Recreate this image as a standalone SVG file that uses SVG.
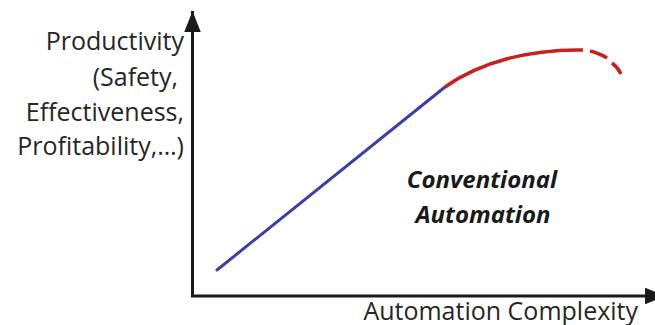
<svg xmlns="http://www.w3.org/2000/svg" width="655" height="325" viewBox="0 0 655 325">
  <style>
    .axis { fill: none; stroke: #1a1a1a; stroke-width: 3; }
    .label { font-family: "Open Sans", "Noto Sans", sans-serif; font-size: 25px; fill: #262626; }
    .note { font-family: "Open Sans", "Noto Sans", sans-serif; font-size: 24px; font-weight: bold; font-style: italic; fill: #1a1a1a; text-anchor: middle; }
    .linear { fill: none; stroke: #3a3fa8; stroke-width: 3; stroke-linecap: round; }
    .curve { fill: none; stroke: #c8201f; stroke-width: 3.5; stroke-linecap: butt; }
  </style>
  <defs>
    <marker id="arrow" viewBox="0 0 10 10" refX="10" refY="5" markerWidth="7" markerHeight="5.5" markerUnits="strokeWidth" orient="auto" preserveAspectRatio="none">
      <path d="M0,0 L10,5 L0,10 Z" fill="#1a1a1a"/>
    </marker>
  </defs>
  <rect width="655" height="325" fill="#ffffff"/>

  <g id="axes">
    <path class="axis" d="M192.5,296 L192.5,11" marker-end="url(#arrow)"/>
    <path class="axis" d="M191,296 L666,296" marker-end="url(#arrow)"/>
  </g>

  <g id="y-label" class="label" text-anchor="end">
    <text x="184" y="50">Productivity</text>
    <text x="178" y="86">(Safety,</text>
    <text x="184" y="121">Effectiveness,</text>
    <text x="184" y="155">Profitability,…)</text>
  </g>

  <g id="x-label">
    <text class="label" x="638" y="320" text-anchor="end">Automation Complexity</text>
  </g>

  <g id="connectors">
    <path class="linear" d="M217,270 L445,87"/>
    <path class="curve" d="M445,87 C480,62 530,49 583,50"/>
    <path class="curve" d="M590,51 C598,53 604,56 607,58"/>
    <path class="curve" d="M612,63 C616,66 619,70 621,74"/>
  </g>

  <g id="region-label">
    <text class="note" x="482" y="188">Conventional</text>
    <text class="note" x="483" y="223">Automation</text>
  </g>
</svg>
